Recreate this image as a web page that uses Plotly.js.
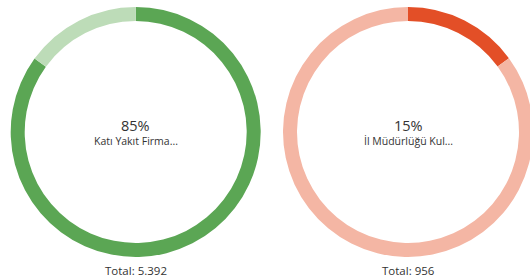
<!DOCTYPE html>
<html>
<head>
<meta charset="utf-8">
<script src="https://cdn.plot.ly/plotly-3.0.1.min.js"></script>
<style>
html,body{margin:0;padding:0;overflow:hidden;background:#fff;width:530px;height:278px;}
#chart{width:545px;height:278px;}
</style>
</head>
<body>
<div id="chart"></div>
<script>
// Data
var leftLabels = ["Katı Yakıt Firma...", "Diğer"];
var leftValues = [4583, 809];
var leftTotal = "5.392";
var leftPercent = "85%";

var rightLabels = ["İl Müdürlüğü Kul...", "Diğer"];
var rightValues = [143, 813];
var rightTotal = "956";
var rightPercent = "15%";

var W = 545, H = 278, R = 125;
function dom(cx, cy) {
  return {x: [(cx - R) / W, (cx + R) / W], y: [1 - (cy + R) / H, 1 - (cy - R) / H]};
}
var leftC = [135.7, 132], rightC = [408, 132];

var common = {
  type: "pie", hole: 0.888, sort: false, direction: "clockwise", rotation: 0,
  textinfo: "none", hoverinfo: "label+value+percent", showlegend: false
};

var trace1 = Object.assign({}, common, {
  labels: leftLabels, values: leftValues, domain: dom(leftC[0], leftC[1]),
  marker: {colors: ["#5ba654", "#bddcb8"], line: {width: 0}}
});
var trace2 = Object.assign({}, common, {
  labels: rightLabels, values: rightValues, domain: dom(rightC[0], rightC[1]),
  marker: {colors: ["#e34f27", "#f4b6a4"], line: {width: 0}}
});

var font = "Open Sans, Noto Sans, sans-serif";
function ann(text, cx, py, size) {
  return {text: text, x: cx / W, y: 1 - py / H, xref: "paper", yref: "paper",
    showarrow: false, xanchor: "center", yanchor: "middle",
    font: {family: font, size: size, color: "#333333"}};
}

var layout = {
  width: W, height: H,
  margin: {l: 0, r: 0, t: 0, b: 0},
  paper_bgcolor: "#ffffff",
  annotations: [
    ann(leftPercent, leftC[0], 125, 14.5),
    ann(leftLabels[0], leftC[0], 141, 10.5),
    ann("Total: " + leftTotal, leftC[0], 270, 11.5),
    ann(rightPercent, rightC[0], 125, 14.5),
    ann(rightLabels[0], rightC[0], 141, 10.5),
    ann("Total: " + rightTotal, rightC[0], 270, 11.5)
  ]
};

Plotly.newPlot("chart", [trace1, trace2], layout, {displayModeBar: false, staticPlot: true});
</script>
</body>
</html>
